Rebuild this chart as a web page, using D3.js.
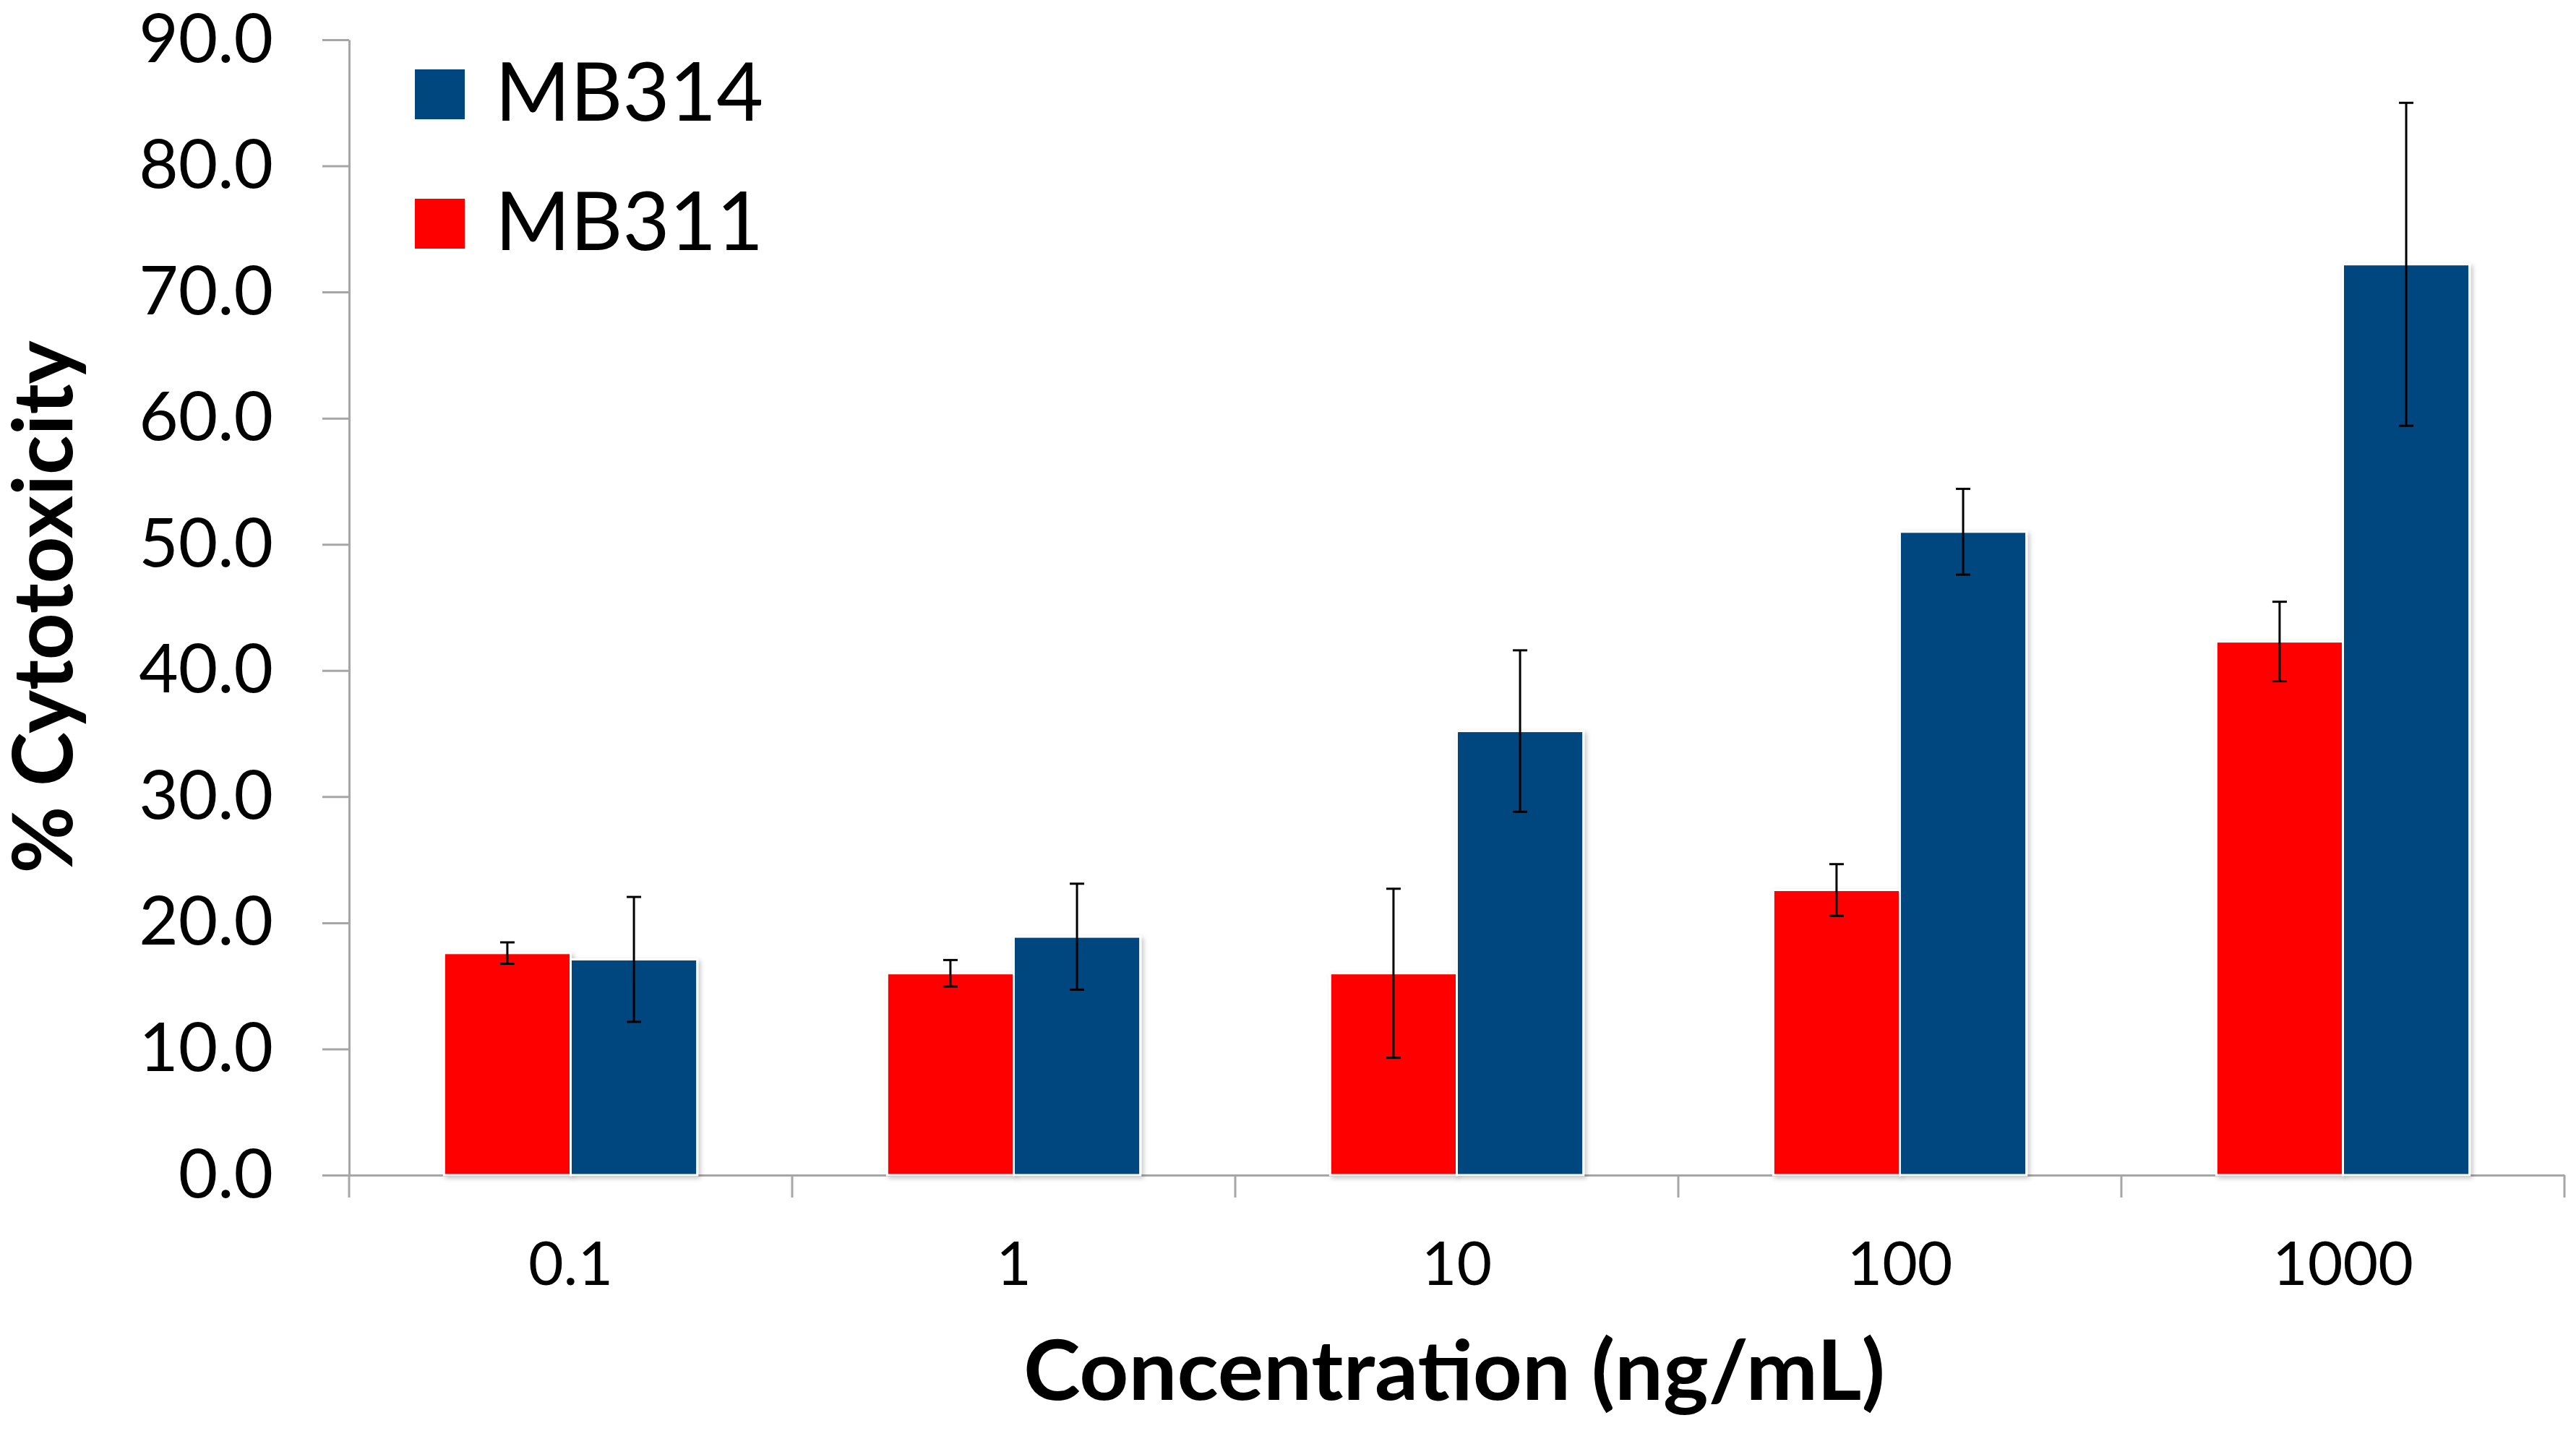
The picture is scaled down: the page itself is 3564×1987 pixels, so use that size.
<!DOCTYPE html>
<html>
<head>
<meta charset="utf-8">
<script src="https://cdn.jsdelivr.net/npm/d3@7"></script>
<style>
  body { margin: 0; background: #fff; }
  svg { display: block; font-family: Lato, "Open Sans", sans-serif; }
</style>
</head>
<body>
<script>
var concentrations = ["0.1", "1", "10", "100", "1000"];
var seriesNames = ["MB311", "MB314"];
var seriesColors = ["#ff0000", "#004780"];
var mb311 = [17.6, 16.0, 16.0, 22.6, 42.3];
var mb311Err = [0.85, 1.05, 6.7, 2.05, 3.15];
var mb314 = [17.1, 18.9, 35.2, 51.0, 72.2];
var mb314Err = [4.95, 4.2, 6.4, 3.4, 12.8];
var yTicks = [0, 10, 20, 30, 40, 50, 60, 70, 80, 90];
var legendOrder = ["MB314", "MB311"];

var values = [mb311, mb314];
var errors = [mb311Err, mb314Err];

var w = 3564;
var h = 1987;
var plotLeft = 483, plotRight = 3548, plotTop = 55, plotBottom = 1626;

var svg = d3.select("body")
    .append("svg")
    .attr("width", w)
    .attr("height", h);

var defs = svg.append("defs");
var shadow = defs.append("filter")
    .attr("id", "shadow")
    .attr("x", "-10%").attr("y", "-10%")
    .attr("width", "130%").attr("height", "130%");
shadow.append("feDropShadow")
    .attr("dx", 3).attr("dy", 3)
    .attr("stdDeviation", 3)
    .attr("flood-color", "#000")
    .attr("flood-opacity", 0.22);

var xScale = d3.scaleBand()
    .domain(concentrations)
    .range([plotLeft, plotRight]);

// Excel-style gap width of 150%
var gap = xScale.bandwidth() * 1.5 / 3.5;
var xInner = d3.scaleBand()
    .domain(seriesNames)
    .range([gap / 2, xScale.bandwidth() - gap / 2]);

var yScale = d3.scaleLinear()
    .domain([0, 90])
    .range([plotBottom, plotTop]);

// rows for bars
var rows = [];
concentrations.forEach(function (c, i) {
    seriesNames.forEach(function (s, j) {
        rows.push({ conc: c, series: s, color: seriesColors[j], value: values[j][i], err: errors[j][i] });
    });
});

// axes
var yAxis = d3.axisLeft(yScale)
    .tickValues(yTicks)
    .tickFormat(d3.format(".1f"))
    .tickSize(37)
    .tickSizeOuter(0)
    .tickPadding(68);

var gy = svg.append("g")
    .attr("transform", "translate(" + plotLeft + ",0)")
    .call(yAxis);
gy.selectAll("text").attr("font-size", 94).attr("fill", "#000").attr("font-family", "Lato");
gy.selectAll("line, path").attr("stroke", "#a6a6a6").attr("stroke-width", 3);

var xAxis = d3.axisBottom(xScale)
    .tickSize(0)
    .tickSizeOuter(0)
    .tickPadding(92);

var gx = svg.append("g")
    .attr("transform", "translate(0," + plotBottom + ")")
    .call(xAxis);
gx.selectAll("text").attr("font-size", 84).attr("fill", "#000").attr("font-family", "Lato");
gx.select("path").attr("stroke", "#a6a6a6").attr("stroke-width", 3);

// category boundary ticks
var bounds = concentrations.map(function (c) { return xScale(c); }).concat([plotRight]);
gx.selectAll(".bound")
    .data(bounds)
    .enter()
    .append("line")
    .attr("class", "bound")
    .attr("x1", function (d) { return d; })
    .attr("x2", function (d) { return d; })
    .attr("y1", 0)
    .attr("y2", 31)
    .attr("stroke", "#a6a6a6")
    .attr("stroke-width", 3);

// bars
svg.selectAll("rect.bar")
    .data(rows)
    .enter()
    .append("rect")
    .attr("class", "bar")
    .attr("x", function (d) { return xScale(d.conc) + xInner(d.series); })
    .attr("y", function (d) { return yScale(d.value); })
    .attr("width", xInner.bandwidth())
    .attr("height", function (d) { return yScale(0) - yScale(d.value); })
    .attr("fill", function (d) { return d.color; })
    .attr("stroke", "#fff")
    .attr("stroke-width", 3)
    .attr("filter", "url(#shadow)");

// error bars
var eb = svg.selectAll("g.err")
    .data(rows)
    .enter()
    .append("g")
    .attr("class", "err")
    .attr("stroke", "#000")
    .attr("stroke-width", 3);

function cx(d) { return xScale(d.conc) + xInner(d.series) + xInner.bandwidth() / 2; }

eb.append("line")
    .attr("x1", cx).attr("x2", cx)
    .attr("y1", function (d) { return yScale(d.value + d.err); })
    .attr("y2", function (d) { return yScale(d.value - d.err); });
eb.append("line")
    .attr("x1", function (d) { return cx(d) - 10; })
    .attr("x2", function (d) { return cx(d) + 10; })
    .attr("y1", function (d) { return yScale(d.value + d.err); })
    .attr("y2", function (d) { return yScale(d.value + d.err); });
eb.append("line")
    .attr("x1", function (d) { return cx(d) - 10; })
    .attr("x2", function (d) { return cx(d) + 10; })
    .attr("y1", function (d) { return yScale(d.value - d.err); })
    .attr("y2", function (d) { return yScale(d.value - d.err); });

// legend
var legend = svg.selectAll("g.legend")
    .data(legendOrder)
    .enter()
    .append("g")
    .attr("class", "legend")
    .attr("transform", function (d, i) { return "translate(574," + (96 + i * 179) + ")"; });

legend.append("rect")
    .attr("width", 69)
    .attr("height", 69)
    .attr("fill", function (d) { return seriesColors[seriesNames.indexOf(d)]; });

legend.append("text")
    .attr("x", 111)
    .attr("y", 71)
    .attr("font-size", 112)
    .attr("fill", "#000")
    .text(function (d) { return d; });

// axis titles
svg.append("text")
    .attr("transform", "translate(100,840) rotate(-90)")
    .attr("text-anchor", "middle")
    .attr("font-size", 115)
    .attr("font-weight", "bold")
    .attr("textLength", 737)
    .attr("lengthAdjust", "spacingAndGlyphs")
    .text("% Cytotoxicity");

svg.append("text")
    .attr("x", 2012)
    .attr("y", 1937)
    .attr("text-anchor", "middle")
    .attr("font-size", 114)
    .attr("font-weight", "bold")
    .attr("textLength", 1192)
    .attr("lengthAdjust", "spacingAndGlyphs")
    .text("Concentration (ng/mL)");
</script>
</body>
</html>
